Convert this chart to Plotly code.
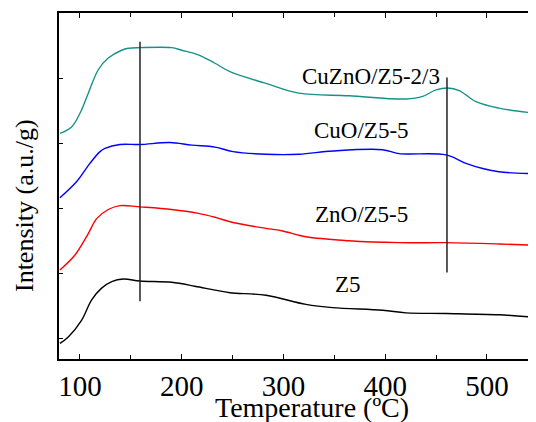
import plotly.graph_objects as go

# Temperature (°C) and intensity (a.u.)
t_cuzno = [80.3, 91.8, 100, 108.2, 118.0, 127.8, 141.0, 147.5, 159, 190.1, 200, 216.3, 232.7,
           247.4, 282.8, 315.2, 364.3, 420.4, 436.8, 449.9, 461.4, 472.8, 489.2, 511.8, 548.2]
y_cuzno = [3.15, 3.25, 3.46, 3.77, 4.13, 4.31, 4.43, 4.46, 4.47, 4.47, 4.43, 4.36, 4.23,
           4.10, 3.92, 3.77, 3.73, 3.68, 3.72, 3.82, 3.85, 3.81, 3.64, 3.54, 3.46]

t_cuo = [80.3, 96.8, 109.8, 119.7, 124.6, 139.3, 159, 188.5, 209.8, 232.7, 250.4, 282.8,
         315.2, 348.3, 397.4, 413.5, 459.7, 479.4, 495.8, 511.8, 548.2]
y_cuo = [2.16, 2.41, 2.69, 2.87, 2.92, 2.98, 2.98, 3.01, 2.97, 2.94, 2.87, 2.83,
         2.83, 2.88, 2.90, 2.84, 2.82, 2.69, 2.61, 2.56, 2.53]

t_zno = [80.3, 95.1, 108.2, 116.4, 127.8, 139.3, 159, 190.1, 216.3, 232.7, 250.4, 282.8,
         299.2, 322.1, 364.3, 413.5, 459.7, 511.8, 548.2]
y_zno = [1.05, 1.28, 1.61, 1.84, 1.98, 2.04, 2.02, 1.98, 1.92, 1.86, 1.78, 1.69,
         1.65, 1.56, 1.50, 1.47, 1.47, 1.45, 1.43]

t_z5 = [80.3, 88.5, 101.7, 111.5, 121.3, 131.2, 142.6, 159, 190.1, 213, 232.7, 247.4,
        282.8, 322.1, 348.3, 397.4, 420.4, 459.7, 511.8, 548.2]
y_z5 = [-0.08, 0.02, 0.28, 0.59, 0.77, 0.87, 0.91, 0.88, 0.86, 0.80, 0.74, 0.70,
        0.66, 0.52, 0.47, 0.43, 0.39, 0.38, 0.36, 0.32]

series_names = ["CuZnO/Z5-2/3", "CuO/Z5-5", "ZnO/Z5-5", "Z5"]
series_colors = ["#16918a", "#0000ff", "#ff0000", "#000000"]

# reference marker lines (temperature, y from, y to)
marker_t = [159, 460.7]
marker_y0 = [0.57, 1.01]
marker_y1 = [4.56, 4.01]

# label positions (temperature, intensity)
label_t = [386, 376.7, 376.7, 363.4]
label_y = [4.02, 3.20, 1.90, 0.83]

FONT = "Liberation Serif"

fig = go.Figure()
for t, y, name, col in zip([t_cuzno, t_cuo, t_zno, t_z5], [y_cuzno, y_cuo, y_zno, y_z5],
                           series_names, series_colors):
    fig.add_trace(go.Scatter(x=t, y=y, mode="lines", name=name,
                             line=dict(color=col, width=1.4, shape="spline", smoothing=1.0),
                             showlegend=False))

for mt, a, b in zip(marker_t, marker_y0, marker_y1):
    fig.add_trace(go.Scatter(x=[mt, mt], y=[a, b], mode="lines",
                             line=dict(color="#222222", width=1.5), showlegend=False))

for name, lt, ly in zip(series_names, label_t, label_y):
    fig.add_annotation(x=lt, y=ly, text=name, showarrow=False,
                       font=dict(family=FONT, size=23, color="black"),
                       xanchor="center", yanchor="middle")

fig.add_annotation(x=0.530, y=-0.1416, xref="paper", yref="paper", text="Temperature (ºC)",
                   showarrow=False, font=dict(family=FONT, size=28, color="black"),
                   xanchor="center", yanchor="middle")
fig.add_annotation(x=-0.0734, y=0.445, xref="paper", yref="paper", text="Intensity (a.u./g)",
                   showarrow=False, textangle=-90, font=dict(family=FONT, size=26, color="black"),
                   xanchor="center", yanchor="middle")

# page body has an 8px default margin, so the figure is 8px smaller than the window
fig.update_layout(
    width=528, height=414,
    margin=dict(l=51, r=0, t=5, b=63, autoexpand=False),
    plot_bgcolor="white", paper_bgcolor="white",
    font=dict(family=FONT, color="black"),
)
fig.update_xaxes(range=[79.4, 548.2], tickvals=[100, 200, 300, 400, 500], automargin=False,
                 ticks="inside", ticklen=5, tickwidth=1.2, tickcolor="black",
                 minor=dict(tickvals=[150, 250, 350, 450], ticks="inside", ticklen=4,
                            tickwidth=1.2, tickcolor="black"),
                 showline=True, linecolor="black", linewidth=1.5, mirror="ticks",
                 showgrid=False, zeroline=False,
                 tickfont=dict(family=FONT, size=29, color="black"))
fig.update_yaxes(range=[-0.32, 5.003], tickvals=[0, 1, 2, 3, 4], showticklabels=False,
                 automargin=False,
                 ticks="inside", ticklen=4, tickwidth=1.2, tickcolor="black",
                 showline=True, linecolor="black", linewidth=1.5, mirror=False,
                 showgrid=False, zeroline=False)

fig.write_html("out.html")
